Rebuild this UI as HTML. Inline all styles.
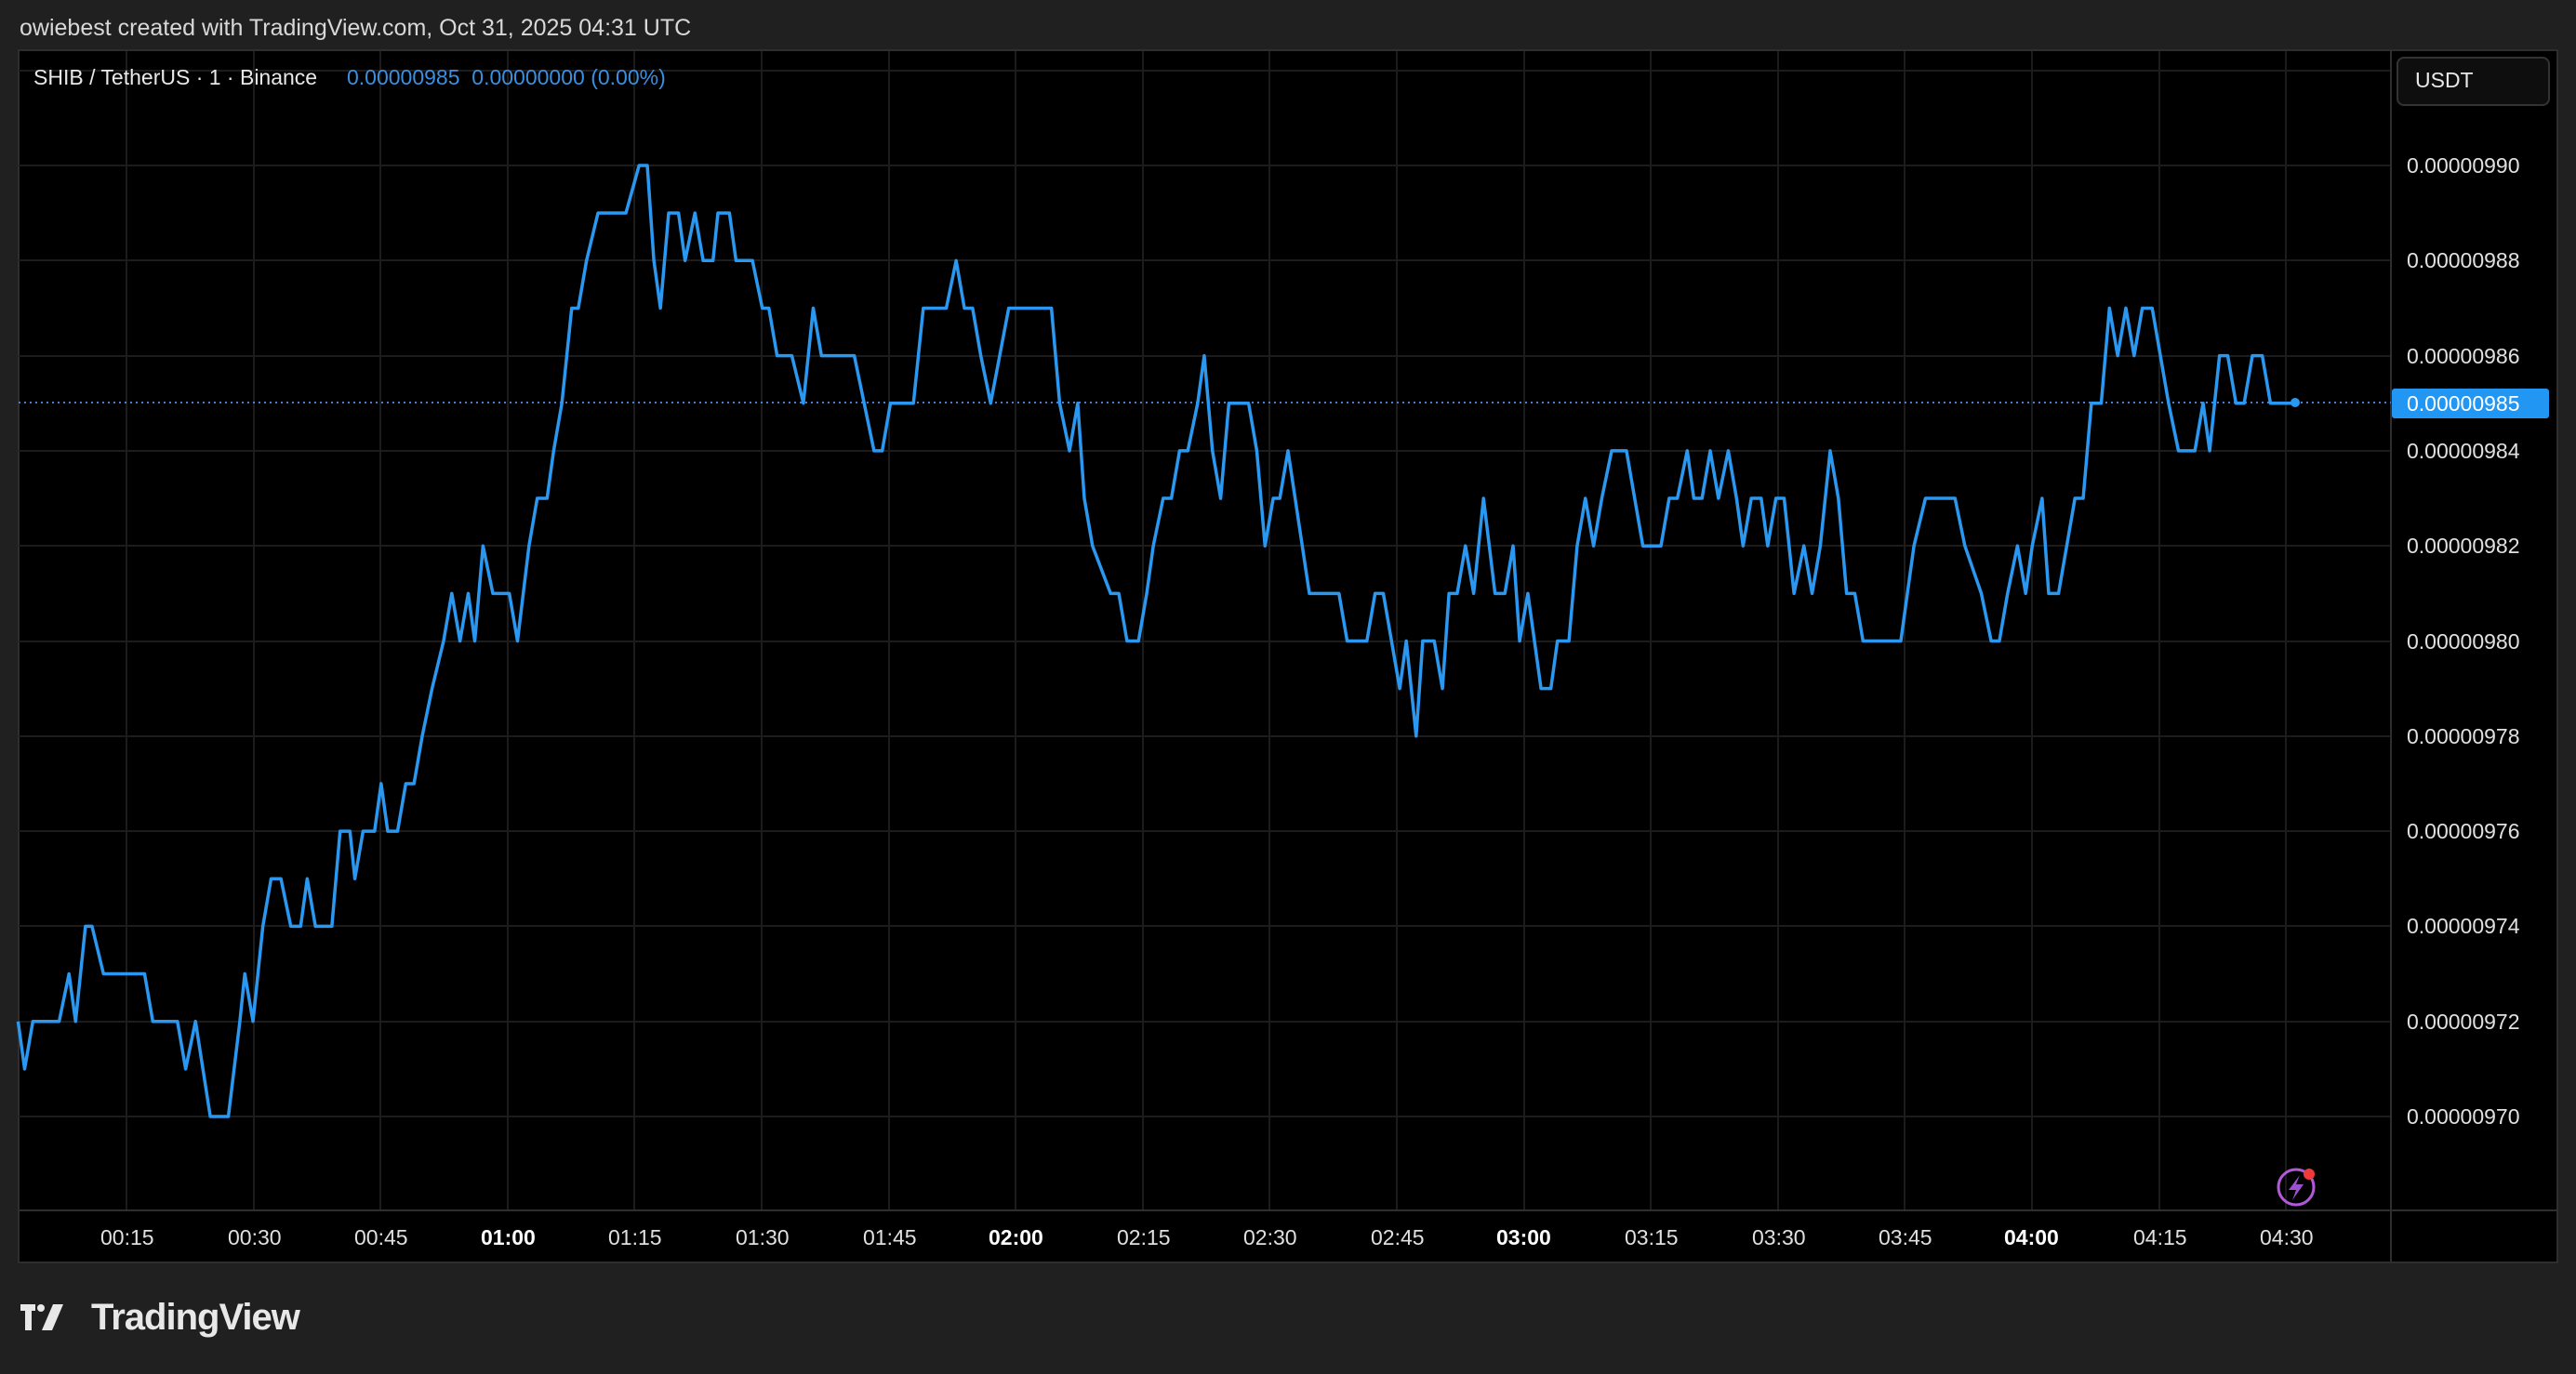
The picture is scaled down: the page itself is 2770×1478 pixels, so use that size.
<!DOCTYPE html>
<html><head><meta charset="utf-8"><style>
html,body{margin:0;padding:0;background:#202020;}
body{width:2770px;height:1478px;position:relative;overflow:hidden;font-family:"Liberation Sans",sans-serif;}
.t{position:absolute;white-space:nowrap;}
</style></head><body>
<div class="t" style="left:21px;top:16px;font-size:25px;color:#d8d8d8;">owiebest created with TradingView.com, Oct 31, 2025 04:31 UTC</div>
<svg width="2770" height="1478" style="position:absolute;left:0;top:0" xmlns="http://www.w3.org/2000/svg">
<rect x="20" y="54" width="2730" height="1304" fill="#000" stroke="#2e2e2e" stroke-width="2"/>
<g stroke="#1c1c1c" stroke-width="2">
<line x1="20" y1="76" x2="2571" y2="76"/>
<line x1="20" y1="178" x2="2571" y2="178"/><line x1="20" y1="280" x2="2571" y2="280"/>
<line x1="20" y1="383" x2="2571" y2="383"/><line x1="20" y1="485" x2="2571" y2="485"/>
<line x1="20" y1="587" x2="2571" y2="587"/><line x1="20" y1="690" x2="2571" y2="690"/>
<line x1="20" y1="792" x2="2571" y2="792"/><line x1="20" y1="894" x2="2571" y2="894"/>
<line x1="20" y1="996" x2="2571" y2="996"/><line x1="20" y1="1099" x2="2571" y2="1099"/>
<line x1="20" y1="1201" x2="2571" y2="1201"/>
<line x1="136" y1="55" x2="136" y2="1302"/><line x1="273" y1="55" x2="273" y2="1302"/>
<line x1="409" y1="55" x2="409" y2="1302"/><line x1="546" y1="55" x2="546" y2="1302"/>
<line x1="682" y1="55" x2="682" y2="1302"/><line x1="819" y1="55" x2="819" y2="1302"/>
<line x1="956" y1="55" x2="956" y2="1302"/><line x1="1092" y1="55" x2="1092" y2="1302"/>
<line x1="1229" y1="55" x2="1229" y2="1302"/><line x1="1365" y1="55" x2="1365" y2="1302"/>
<line x1="1502" y1="55" x2="1502" y2="1302"/><line x1="1639" y1="55" x2="1639" y2="1302"/>
<line x1="1775" y1="55" x2="1775" y2="1302"/><line x1="1912" y1="55" x2="1912" y2="1302"/>
<line x1="2048" y1="55" x2="2048" y2="1302"/><line x1="2185" y1="55" x2="2185" y2="1302"/>
<line x1="2322" y1="55" x2="2322" y2="1302"/><line x1="2458" y1="55" x2="2458" y2="1302"/>
</g>
<line x1="20" y1="1302" x2="2750" y2="1302" stroke="#2e2e2e" stroke-width="2"/>
<line x1="2571" y1="55" x2="2571" y2="1358" stroke="#2e2e2e" stroke-width="2"/>
<line x1="20" y1="433" x2="2571" y2="433" stroke="#4a7fd0" stroke-width="2" stroke-dasharray="2,4"/>
<polyline fill="none" stroke="#2a98f0" stroke-width="3.5" stroke-linejoin="round" vector-effect="non-scaling-stroke" transform="matrix(1.7666,0,0,-51.15,0,50816.5)" points="11,972 15,971 20,972 36,972 42,973 46,972 52,974 56,974 63,973 88,973 93,972 108,972 113,971 119,972 128,970 139,970 146,972 149,973 154,972 160,974 165,975 171,975 177,974 183,974 187,975 192,974 202,974 207,976 213,976 216,975 221,976 228,976 232,977 236,976 242,976 247,977 252,977 257,978 263,979 270,980 275,981 280,980 285,981 289,980 294,982 300,981 310,981 315,980 322,982 327,983 333,983 337,984 342,985 348,987 352,987 357,988 364,989 381,989 389,990 394,990 398,988 402,987 407,989 413,989 417,988 423,989 428,988 434,988 437,989 444,989 448,988 458,988 464,987 468,987 473,986 482,986 489,985 495,987 500,986 520,986 526,985 532,984 537,984 542,985 556,985 562,987 576,987 582,988 587,987 592,987 597,986 603,985 614,987 640,987 645,985 651,984 656,985 660,983 665,982 676,981 681,981 686,980 693,980 698,981 702,982 708,983 713,983 718,984 723,984 729,985 733,986 738,984 743,983 748,985 760,985 765,984 770,982 775,983 779,983 784,984 797,981 815,981 820,980 832,980 837,981 842,981 847,980 852,979 856,980 862,978 866,980 873,980 878,979 882,981 887,981 892,982 897,981 903,983 910,981 916,981 921,982 925,980 930,981 938,979 944,979 948,980 955,980 960,982 965,983 970,982 975,983 981,984 990,984 995,983 1000,982 1011,982 1016,983 1021,983 1027,984 1031,983 1036,983 1041,984 1046,983 1052,984 1057,983 1061,982 1066,983 1072,983 1076,982 1081,983 1086,983 1092,981 1098,982 1103,981 1108,982 1114,984 1119,983 1124,981 1129,981 1134,980 1157,980 1165,982 1172,983 1190,983 1196,982 1206,981 1212,980 1217,980 1222,981 1228,982 1233,981 1237,982 1243,983 1247,981 1253,981 1258,982 1263,983 1268,983 1273,985 1279,985 1284,987 1289,986 1294,987 1299,986 1304,987 1310,987 1315,986 1320,985 1326,984 1336,984 1341,985 1345,984 1351,986 1356,986 1361,985 1366,985 1371,986 1377,986 1382,985 1397,985"/>
<circle cx="2468" cy="433" r="5" fill="#2a98f0"/>
<rect x="2578" y="62" width="163" height="51" rx="7" fill="#0e0e0e" stroke="#333" stroke-width="2"/>
<rect x="2572" y="418" width="169" height="32" rx="3" fill="#2196f3"/>
<circle cx="2469" cy="1277" r="19" fill="none" stroke="#b05ad8" stroke-width="3"/>
<path d="M2473 1264 L2461 1280 L2469 1280 L2465 1291 L2477 1274 L2469 1274 Z" fill="#9c4fd0"/>
<circle cx="2483" cy="1263" r="6" fill="#f03a3a"/>
<g fill="#e8e8e8"><rect x="22" y="1403" width="16" height="7"/><rect x="27" y="1403" width="7" height="28"/></g>
<path d="M45 1431 L57 1403 L68 1403 L56 1431 Z" fill="#e8e8e8"/><circle cx="44" cy="1407" r="4" fill="#e8e8e8"/>
</svg>
<div class="t" style="left:36px;top:70px;font-size:23px;color:#e8e8e8;">SHIB / TetherUS · 1 · Binance</div>
<div class="t" style="left:373px;top:70px;font-size:23px;color:#3a8fe0;">0.00000985&nbsp; 0.00000000 (0.00%)</div>
<div class="t" style="left:2597px;top:73px;font-size:23px;color:#e8e8e8;">USDT</div>
<div style="position:absolute;left:2588px;top:0;font-size:23px;color:#e0e0e0;">
<div class="t" style="top:165px">0.00000990</div>
<div class="t" style="top:267px">0.00000988</div>
<div class="t" style="top:370px">0.00000986</div>
<div class="t" style="top:421px;color:#fff">0.00000985</div>
<div class="t" style="top:472px">0.00000984</div>
<div class="t" style="top:574px">0.00000982</div>
<div class="t" style="top:677px">0.00000980</div>
<div class="t" style="top:779px">0.00000978</div>
<div class="t" style="top:881px">0.00000976</div>
<div class="t" style="top:983px">0.00000974</div>
<div class="t" style="top:1086px">0.00000972</div>
<div class="t" style="top:1188px">0.00000970</div>
</div>
<div style="position:absolute;left:5px;top:1318px;font-size:23px;color:#e0e0e0;">
<div class="t" style="left:103px">00:15</div><div class="t" style="left:240px">00:30</div>
<div class="t" style="left:376px">00:45</div><div class="t" style="left:512px;font-weight:bold;color:#fff">01:00</div>
<div class="t" style="left:649px">01:15</div><div class="t" style="left:786px">01:30</div>
<div class="t" style="left:923px">01:45</div><div class="t" style="left:1058px;font-weight:bold;color:#fff">02:00</div>
<div class="t" style="left:1196px">02:15</div><div class="t" style="left:1332px">02:30</div>
<div class="t" style="left:1469px">02:45</div><div class="t" style="left:1604px;font-weight:bold;color:#fff">03:00</div>
<div class="t" style="left:1742px">03:15</div><div class="t" style="left:1879px">03:30</div>
<div class="t" style="left:2015px">03:45</div><div class="t" style="left:2150px;font-weight:bold;color:#fff">04:00</div>
<div class="t" style="left:2289px">04:15</div><div class="t" style="left:2425px">04:30</div>
</div>
<div class="t" style="left:98px;top:1395px;font-size:40px;font-weight:bold;color:#e8e8e8;letter-spacing:-1px;">TradingView</div>
</body></html>
